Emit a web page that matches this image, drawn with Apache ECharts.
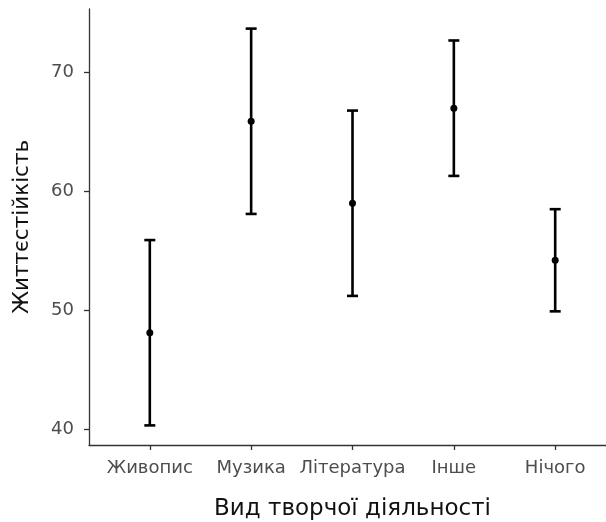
<!DOCTYPE html>
<html>
<head>
<meta charset="utf-8">
<script src="https://cdn.jsdelivr.net/npm/echarts@6/dist/echarts.min.js"></script>
<style>
  html, body { margin: 0; padding: 0; background: #fff; }
  #chart { width: 606px; height: 522px; }
</style>
</head>
<body>
<div id="chart"></div>
<script>
// Resilience scores by type of creative activity: mean with interval bounds
const categories = ['Живопис', 'Музика', 'Література', 'Інше', 'Нічого'];
const means = [48.1, 65.9, 59.0, 67.0, 54.2];
const lower = [40.3, 58.1, 51.2, 61.3, 49.9];
const upper = [55.9, 73.7, 66.8, 72.7, 58.5];
const yTicks = [40, 50, 60, 70];
const xTitle = 'Вид творчої діяльності';
const yTitle = 'Життєстійкість';

const positions = categories.map((_, i) => i + 1);
const barData = categories.map((_, i) => [positions[i], means[i], lower[i], upper[i]]);

const chart = echarts.init(document.getElementById('chart'), null, { renderer: 'canvas' });
const font = '"DejaVu Sans", sans-serif';
const axisColor = '#333333';

chart.setOption({
  animation: false,
  backgroundColor: '#ffffff',
  grid: { left: 89, right: -10, top: 9, bottom: 77, containLabel: false, outerBoundsMode: 'none' },
  xAxis: {
    type: 'value',
    min: 0.4,
    max: 5.6,
    splitLine: { show: false },
    axisLine: { show: true, lineStyle: { color: axisColor, width: 1.3 } },
    axisTick: { show: true, length: 5, customValues: positions, lineStyle: { color: axisColor, width: 1.3 } },
    axisLabel: {
      customValues: positions,
      formatter: v => categories[Math.round(v) - 1] || '',
      color: '#4d4d4d', fontSize: 18, fontFamily: font, margin: 14
    },
    name: xTitle,
    nameLocation: 'middle',
    nameGap: 53,
    nameTextStyle: { color: '#111111', fontSize: 23, fontFamily: font }
  },
  yAxis: {
    type: 'value',
    min: 38.65,
    max: 75.35,
    splitLine: { show: false },
    axisLine: { show: true, lineStyle: { color: axisColor, width: 1.3 } },
    axisTick: { show: true, length: 5, customValues: yTicks, lineStyle: { color: axisColor, width: 1.3 } },
    axisLabel: {
      customValues: yTicks,
      color: '#4d4d4d', fontSize: 18, fontFamily: font, margin: 15
    },
    name: yTitle,
    nameLocation: 'middle',
    nameGap: 56,
    nameTextStyle: { color: '#111111', fontSize: 21.5, fontFamily: font }
  },
  series: [{
    type: 'custom',
    data: barData,
    renderItem: function (params, api) {
      const x = api.value(0);
      const top = api.coord([x, api.value(3)]);
      const bot = api.coord([x, api.value(2)]);
      const mid = api.coord([x, api.value(1)]);
      const half = 5.5;
      const style = { stroke: '#000', lineWidth: 2.6, fill: null };
      return {
        type: 'group',
        children: [
          { type: 'line', shape: { x1: top[0], y1: top[1], x2: bot[0], y2: bot[1] }, style },
          { type: 'line', shape: { x1: top[0] - half, y1: top[1], x2: top[0] + half, y2: top[1] }, style },
          { type: 'line', shape: { x1: bot[0] - half, y1: bot[1], x2: bot[0] + half, y2: bot[1] }, style },
          { type: 'circle', shape: { cx: mid[0], cy: mid[1], r: 3.5 }, style: { fill: '#000' } }
        ]
      };
    }
  }]
});
</script>
</body>
</html>
